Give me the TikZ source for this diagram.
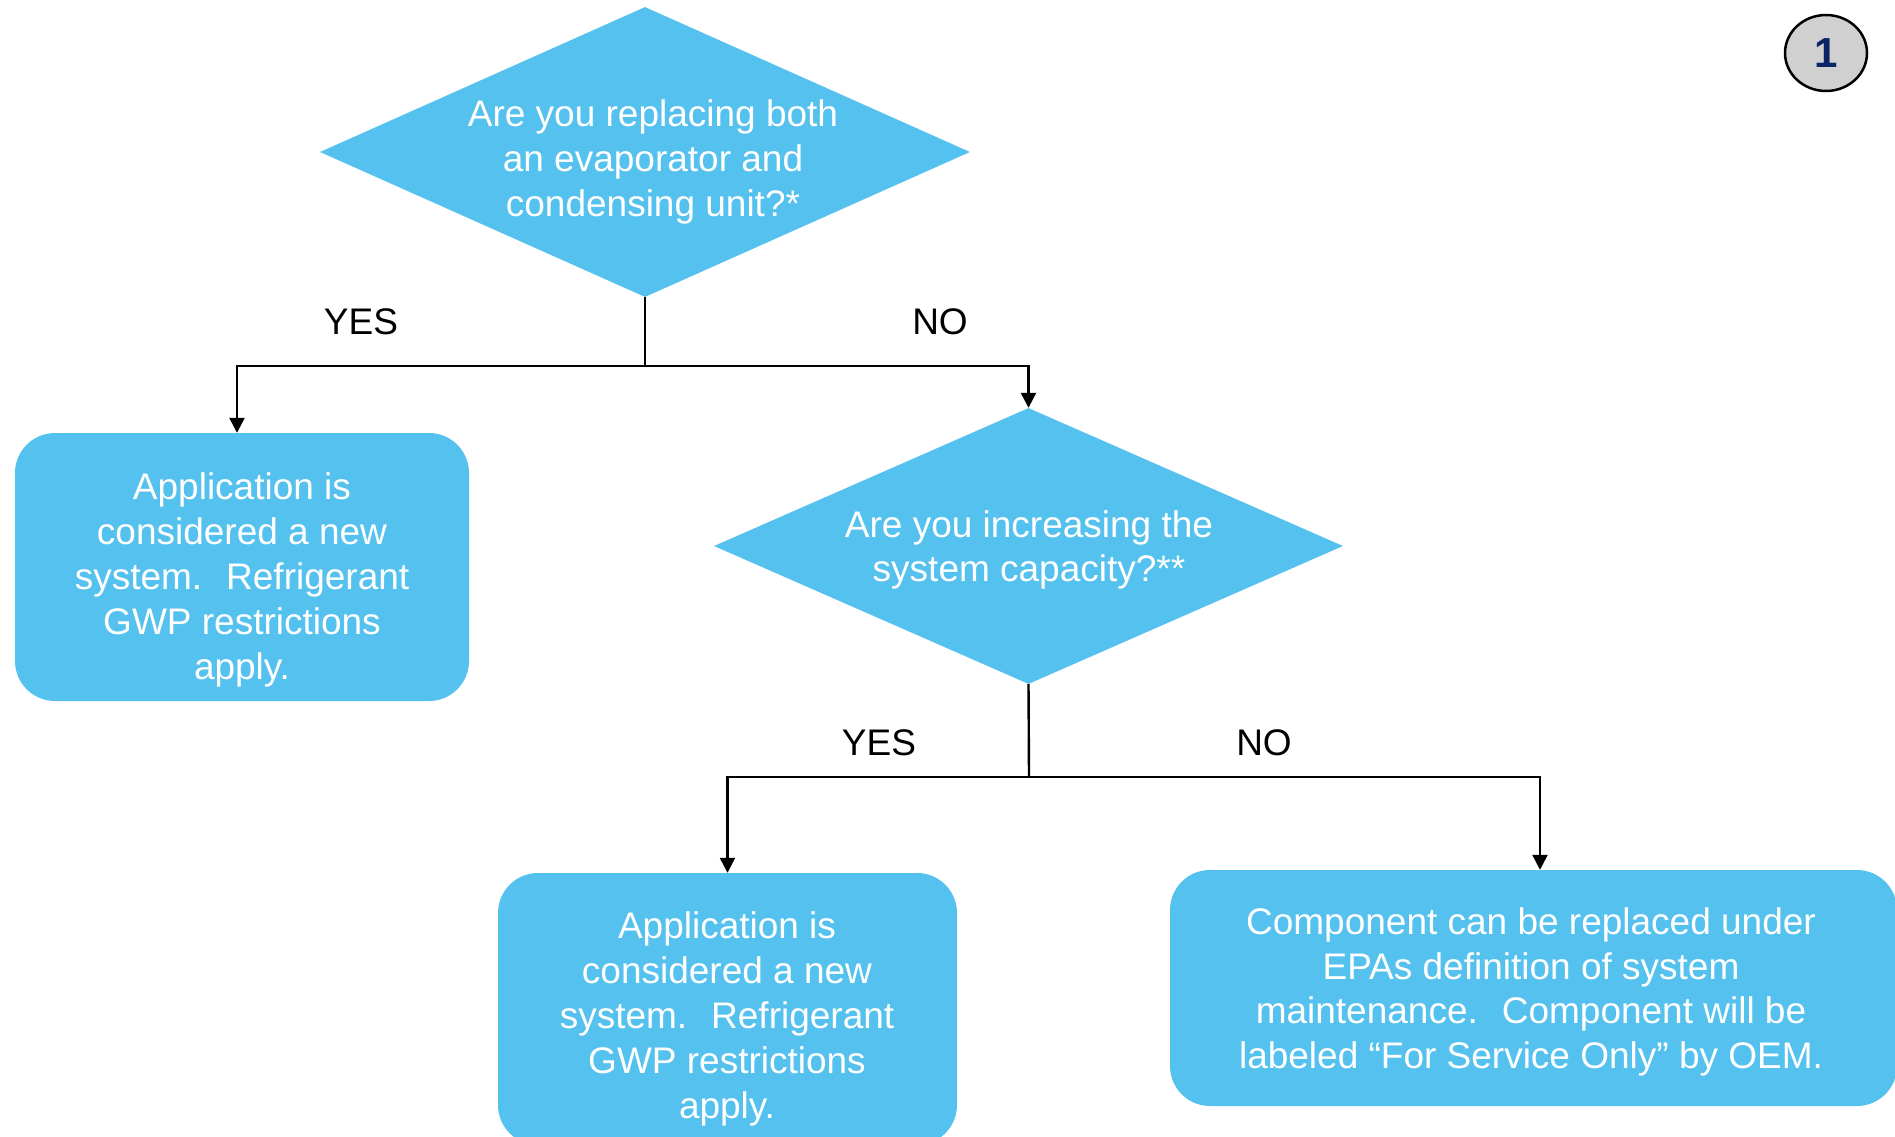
\documentclass[tikz,border=0pt]{standalone}
\usepackage{fontspec}
\setmainfont{Liberation Sans}
\usetikzlibrary{shapes.geometric,arrows.meta}
\definecolor{fillblue}{HTML}{55C1EE}
\definecolor{navy}{HTML}{0A2466}
\definecolor{circgray}{HTML}{D0D0D0}
\tikzset{
 qshape/.style={diamond, fill=fillblue, inner sep=0pt, draw=none},
 rbox/.style={rectangle, rounded corners=40pt, fill=fillblue, inner sep=0pt},
 btext/.style={text=white, align=center, font=\fontsize{37}{44.8}\selectfont, inner sep=0pt},
 lbl/.style={font=\fontsize{37}{44}\selectfont, text=black, inner sep=0pt},
 conn/.style={line width=2.4pt, draw=black},
 arr/.style={conn, -{Triangle[length=15pt,width=15pt]}},
}
\begin{document}
\begin{tikzpicture}[x=1pt,y=-1pt]
\useasboundingbox (0,0) rectangle (1895,1137);
\clip (0,0) rectangle (1895,1137);
% shapes
\node[qshape, minimum width=650pt, minimum height=290pt] (d1) at (645,152) {};
\node[btext] (d1t) at (653,162) {Are you replacing both\\an evaporator and\\condensing unit?*};
\node[qshape, minimum width=629pt, minimum height=276pt] (d2) at (1028.5,546) {};
\node[btext] (d2t) at (1029,550) {Are you increasing the\\system capacity?**};
\node[rbox, minimum width=454pt, minimum height=268pt] (b1) at (242,567) {};
\node[btext] (b1t) at (242,580) {Application is\\considered a new\\system.~ Refrigerant\\GWP restrictions\\apply.};
\node[rbox, minimum width=459pt, minimum height=272pt] (b2) at (727.5,1009) {};
\node[btext] (b2t) at (727,1019) {Application is\\considered a new\\system.~ Refrigerant\\GWP restrictions\\apply.};
\node[rbox, minimum width=727pt, minimum height=236pt] (b3) at (1533.5,988) {};
\node[btext] (b3t) at (1531,992) {Component can be replaced under\\EPAs definition of system\\maintenance.~ Component will be\\labeled “For Service Only” by OEM.};
% connectors
\coordinate (j1) at (645,366);
\coordinate (j2) at (1029,777);
\draw[conn] (d1.south) -- (j1);
\draw[arr] (j1) -| ([xshift=-5pt]b1.north);
\draw[arr] (j1) -| (d2.north);
\draw[conn] (d2.south) -- (j2);
\draw[arr] (j2) -| (b2.north);
\draw[arr] (j2) -| ([xshift=6.5pt]b3.north);
% labels
\node[lbl] (y1) at (361,322) {YES};
\node[lbl] (n1) at (940,322) {NO};
\node[lbl] (y2) at (879,743) {YES};
\node[lbl] (n2) at (1264,743) {NO};
% badge
\node[ellipse, draw=black, line width=2.5pt, fill=circgray, minimum width=82pt, minimum height=76pt, inner sep=0pt, text=navy, font=\fontsize{42}{42}\selectfont\bfseries] (badge) at (1826,53) {1};
\end{tikzpicture}
\end{document}
